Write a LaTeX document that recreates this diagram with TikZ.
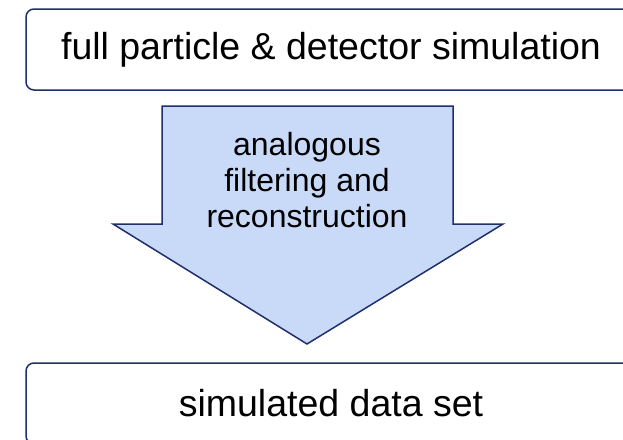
\documentclass[tikz,border=0pt]{standalone}
\usepackage{fontspec}
\setmainfont{Liberation Sans}
\definecolor{boxline}{HTML}{1F2F6B}
\definecolor{arrowfill}{HTML}{C9DAF8}
\tikzset{
  stagebox/.style={draw=boxline, line width=1.5pt, rounded corners=8pt,
    minimum width=610pt, minimum height=81pt, fill=white,
    font=\fontsize{37.5}{42}\selectfont},
  flowarrow/.style={draw=boxline, line width=1.5pt, fill=arrowfill, line join=miter},
  arrowtext/.style={align=center, font=\fontsize{32}{36}\selectfont}
}
\begin{document}
\begin{tikzpicture}[x=1pt,y=-1pt]
  \useasboundingbox (0,0) rectangle (623,439);
  \node[stagebox] (full) at (331,49.5) {full particle \& detector simulation};
  \node[stagebox] (sim) at (331,403.5) {simulated data set};
  % block arrow between the two stages
  \draw[flowarrow] (162,106) -- (453,106) -- (453,224) -- (503,224)
    -- (307,344) -- (113,224) -- (162,224) -- cycle;
  \node[arrowtext] (filter) at (307,180) {analogous\\filtering and\\reconstruction};
\end{tikzpicture}
\end{document}
